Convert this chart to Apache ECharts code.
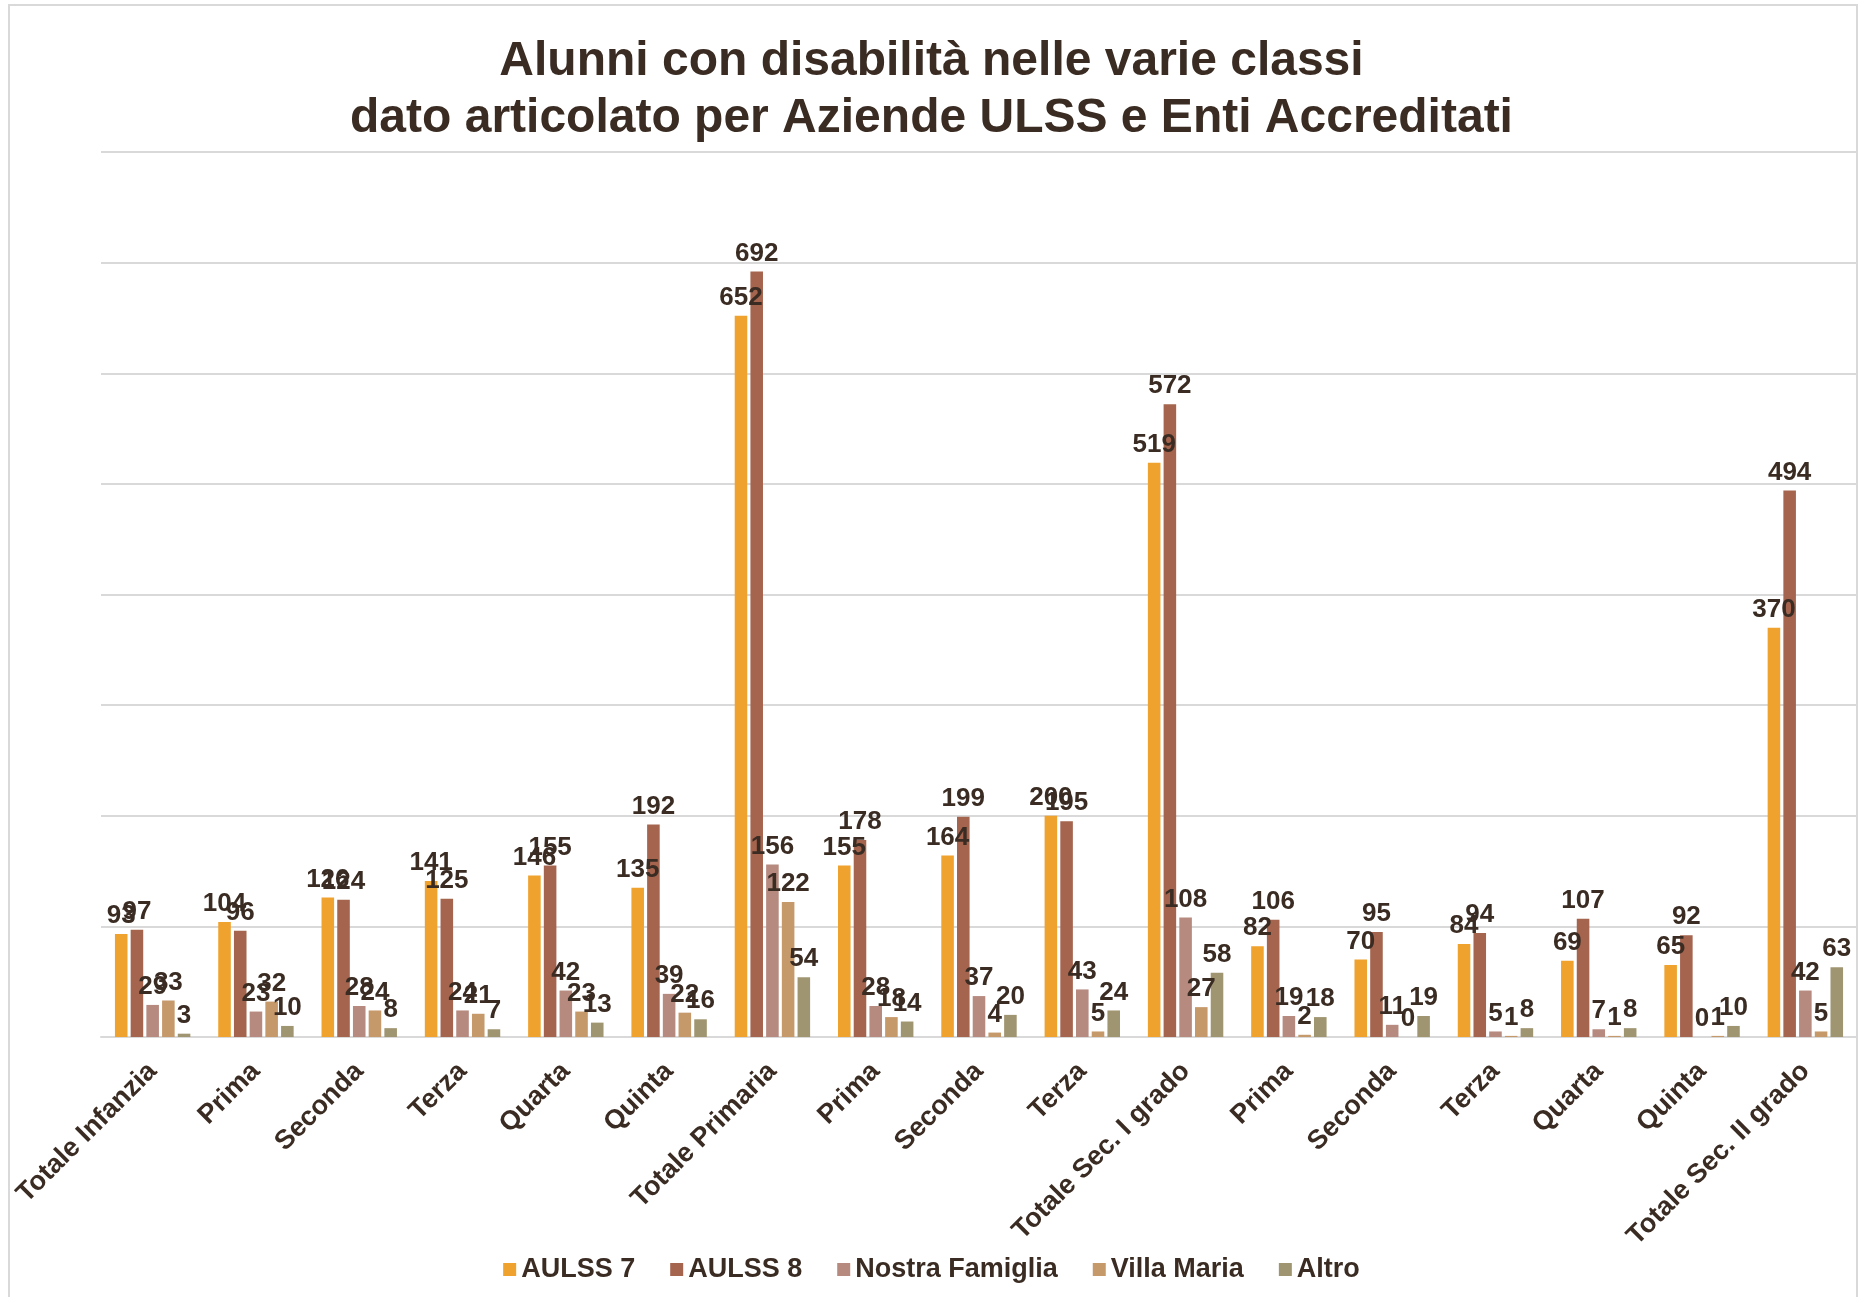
<!DOCTYPE html>
<html>
<head>
<meta charset="utf-8">
<title>Alunni con disabilità</title>
<script src="https://cdn.jsdelivr.net/npm/echarts@6/dist/echarts.min.js"></script>
<style>
  html, body { margin: 0; padding: 0; background: #fff; }
  #chart { width: 1863px; height: 1297px; }
</style>
</head>
<body>
<div id="chart"></div>
<script>
// categorie (classi)
var classi = [
  "Totale Infanzia", "Prima", "Seconda", "Terza", "Quarta", "Quinta",
  "Totale Primaria", "Prima", "Seconda", "Terza",
  "Totale Sec. I grado", "Prima", "Seconda", "Terza", "Quarta", "Quinta",
  "Totale Sec. II grado"
];

// valori per ente
var aulss7 = [93, 104, 126, 141, 146, 135, 652, 155, 164, 200, 519, 82, 70, 84, 69, 65, 370];
var aulss8 = [97, 96, 124, 125, 155, 192, 692, 178, 199, 195, 572, 106, 95, 94, 107, 92, 494];
var nostraFamiglia = [29, 23, 28, 24, 42, 39, 156, 28, 37, 43, 108, 19, 11, 5, 7, 0, 42];
var villaMaria = [33, 32, 24, 21, 23, 22, 122, 18, 4, 5, 27, 2, 0, 1, 1, 1, 5];
var altro = [3, 10, 8, 7, 13, 16, 54, 14, 20, 24, 58, 18, 19, 8, 8, 10, 63];

var textColor = "#3a2c23";
var font = "'Liberation Sans', Arial, sans-serif";

function serie(nome, dati, colore) {
  return {
    name: nome,
    type: "bar",
    data: dati,
    itemStyle: { color: colore },
    barGap: "25%",
    barCategoryGap: "27%",
    label: {
      show: true,
      position: "top",
      distance: 5,
      color: textColor,
      fontFamily: font,
      fontWeight: "bold",
      fontSize: 26
    }
  };
}

var myChart = echarts.init(document.getElementById("chart"));

var option = {
  animation: false,
  backgroundColor: "#fff",
  textStyle: { fontFamily: font },
  title: {
    text: "Alunni con disabilità nelle varie classi\ndato articolato per Aziende ULSS e Enti Accreditati",
    left: "center",
    top: 28,
    textStyle: {
      color: textColor,
      fontFamily: font,
      fontWeight: "bold",
      fontSize: 48,
      lineHeight: 57
    }
  },
  legend: {
    bottom: 9,
    left: "center",
    icon: "rect",
    itemWidth: 13,
    itemHeight: 13,
    itemGap: 35,
    textStyle: {
      color: textColor,
      fontFamily: font,
      fontWeight: "bold",
      fontSize: 27
    },
    data: ["AULSS 7", "AULSS 8", "Nostra Famiglia", "Villa Maria", "Altro"]
  },
  grid: {
    left: 101,
    right: 6,
    top: 152,
    bottom: 260,
    containLabel: false
  },
  xAxis: {
    type: "category",
    data: classi,
    axisTick: { show: false },
    axisLine: { lineStyle: { color: "#d9d9d9", width: 2 } },
    axisLabel: {
      interval: 0,
      rotate: 45,
      margin: 30,
      color: textColor,
      fontFamily: font,
      fontWeight: "bold",
      fontSize: 27
    }
  },
  yAxis: {
    type: "value",
    min: 0,
    max: 800,
    interval: 100,
    axisLabel: { show: false },
    axisLine: { show: false },
    axisTick: { show: false },
    splitLine: { lineStyle: { color: "#d9d9d9", width: 2 } }
  },
  graphic: [
    {
      type: "rect",
      shape: { x: 9, y: 5, width: 1848, height: 1300 },
      style: { fill: null, stroke: "#d9d9d9", lineWidth: 2 },
      silent: true
    }
  ],
  series: [
    serie("AULSS 7", aulss7, "#efa22e"),
    serie("AULSS 8", aulss8, "#a5644e"),
    serie("Nostra Famiglia", nostraFamiglia, "#b68a7f"),
    serie("Villa Maria", villaMaria, "#c6996b"),
    serie("Altro", altro, "#a09571")
  ]
};

myChart.setOption(option);
</script>
</body>
</html>
